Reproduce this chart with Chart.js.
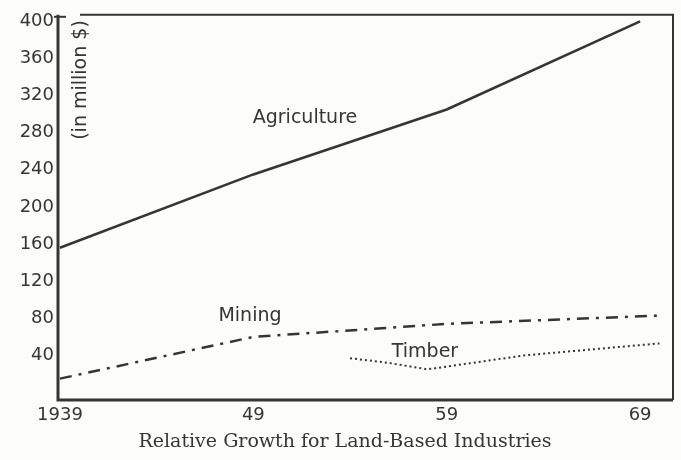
<!DOCTYPE html>
<html>
<head>
<meta charset="utf-8">
<script src="https://cdn.jsdelivr.net/npm/chart.js@4"></script>
<style>
  html, body { margin: 0; padding: 0; background: #fcfcfb; }
  #wrap { width: 681px; height: 460px; }
</style>
</head>
<body>
<div id="wrap"><canvas id="chart"></canvas></div>
<script>
// values, in million $
const agriYears = [1939, 1949, 1959, 1969];
const agriValues = [156, 235, 305, 400];

const miningYears = [1939, 1949, 1959, 1970];
const miningValues = [15, 60, 74, 83];

const timberYears = [1954, 1956, 1958, 1963, 1970];
const timberValues = [37, 32, 25, 40, 53];

const xTicks = [1939, 1949, 1959, 1969];
const xTickLabels = ['1939', '49', '59', '69'];
const yTicks = [40, 80, 120, 160, 200, 240, 280, 320, 360, 400];

const ink = '#353535';

function toPoints(xs, ys) {
  return xs.map((x, i) => ({ x: x, y: ys[i] }));
}

// frame, inline series names, unit label and caption
const decorations = {
  id: 'decorations',
  afterDraw(chart) {
    const { ctx, chartArea: a } = chart;
    ctx.save();
    ctx.strokeStyle = ink;
    ctx.lineWidth = 2;
    ctx.beginPath();
    ctx.moveTo(80, a.top);
    ctx.lineTo(a.right, a.top);
    ctx.lineTo(a.right, a.bottom);
    ctx.stroke();
    ctx.lineWidth = 3;
    ctx.beginPath();
    ctx.moveTo(a.left, a.top);
    ctx.lineTo(a.left, a.bottom);
    ctx.lineTo(a.right, a.bottom);
    ctx.stroke();
    ctx.lineWidth = 2;
    ctx.beginPath();
    ctx.moveTo(a.left - 4, a.top + 2);
    ctx.lineTo(a.left + 8, a.top + 2);
    ctx.stroke();

    ctx.fillStyle = ink;
    ctx.textAlign = 'center';
    ctx.textBaseline = 'middle';
    ctx.font = '19px "DejaVu Sans"';
    ctx.fillText('Agriculture', 305, 118);
    ctx.fillText('Mining', 250, 316);
    ctx.fillText('Timber', 425, 352);

    ctx.save();
    ctx.translate(81, 80);
    ctx.rotate(-Math.PI / 2);
    ctx.font = '19px "DejaVu Sans"';
    ctx.fillText('(in million $)', 0, 0);
    ctx.restore();

    ctx.font = '19px "DejaVu Serif"';
    ctx.fillText('Relative Growth for Land-Based Industries', 345, 442);
    ctx.restore();
  }
};

new Chart(document.getElementById('chart'), {
  type: 'line',
  data: {
    datasets: [
      {
        label: 'Agriculture',
        data: toPoints(agriYears, agriValues),
        borderColor: ink,
        borderWidth: 2.5,
        pointRadius: 0,
        tension: 0
      },
      {
        label: 'Mining',
        data: toPoints(miningYears, miningValues),
        borderColor: ink,
        borderWidth: 2.5,
        borderDash: [12, 7, 3, 7],
        pointRadius: 0,
        tension: 0
      },
      {
        label: 'Timber',
        data: toPoints(timberYears, timberValues),
        borderColor: ink,
        borderWidth: 2,
        borderDash: [2, 3],
        pointRadius: 0,
        tension: 0
      }
    ]
  },
  options: {
    responsive: true,
    maintainAspectRatio: false,
    animation: false,
    layout: { padding: { top: 10, right: 8, bottom: 24, left: 0 } },
    plugins: {
      legend: { display: false },
      tooltip: { enabled: false }
    },
    scales: {
      x: {
        type: 'linear',
        min: 1938.9,
        max: 1970.7,
        grid: { display: false, drawTicks: false },
        border: { display: false },
        afterFit(scale) { scale.height = 36; },
        afterBuildTicks(scale) {
          scale.ticks = xTicks.map(v => ({ value: v }));
        },
        ticks: {
          color: ink,
          padding: 5,
          maxRotation: 0,
          autoSkip: false,
          font: { family: 'DejaVu Sans', size: 18 },
          callback: (value) => xTickLabels[xTicks.indexOf(value)]
        }
      },
      y: {
        min: -8,
        max: 407,
        grid: { display: false, drawTicks: false },
        border: { display: false },
        afterFit(scale) { scale.width = 58; },
        afterBuildTicks(scale) {
          scale.ticks = yTicks.map(v => ({ value: v }));
        },
        ticks: {
          color: ink,
          padding: 4,
          font: { family: 'DejaVu Sans', size: 18 }
        }
      }
    }
  },
  plugins: [decorations]
});
</script>
</body>
</html>
